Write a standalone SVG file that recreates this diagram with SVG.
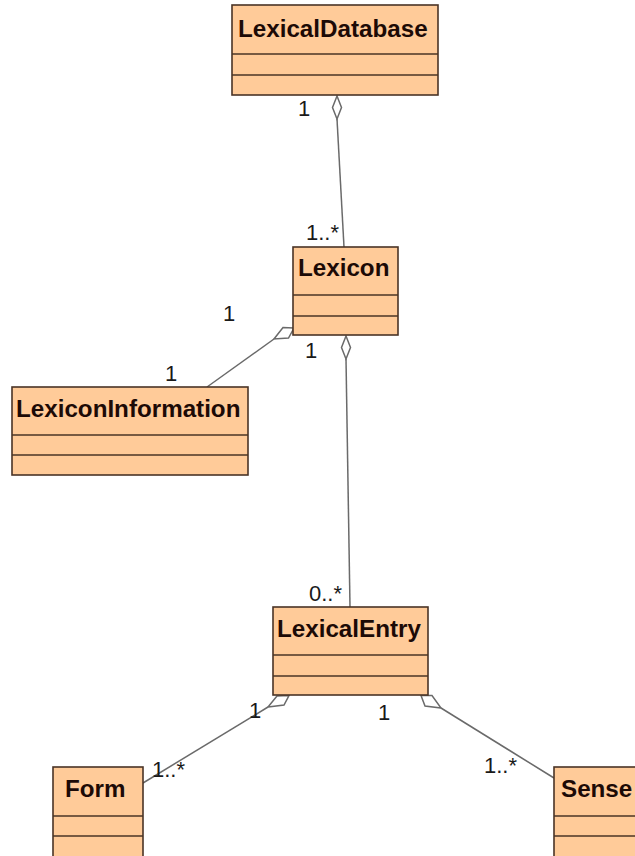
<svg xmlns="http://www.w3.org/2000/svg" width="635" height="856" viewBox="0 0 635 856">
  <style>
    .box { fill: #ffcb99; stroke: #4a3426; stroke-width: 1.6; }
    .sep { stroke: #4a3426; stroke-width: 1.6; }
    .name { font-family: "Liberation Sans", Arial, sans-serif; font-weight: bold; font-size: 24.2px; fill: #1c0a06; }
    .mult { font-family: "Liberation Sans", Arial, sans-serif; font-size: 22px; fill: #1a1a1a; }
    .edge { stroke: #6a6a6a; stroke-width: 1.5; fill: none; }
    .agg { stroke: #6a6a6a; stroke-width: 1.5; fill: #ffffff; stroke-linejoin: miter; }
  </style>
  <rect width="635" height="856" fill="#ffffff"/>

  <!-- connectors: plain lines ending in hollow aggregation diamonds -->
  <g id="connectors">
    <line class="edge" x1="337" y1="119" x2="344" y2="247"/>
    <polygon class="agg" points="337,96 341.5,107.5 337,119 332.5,107.5"/>

    <line class="edge" x1="346" y1="359" x2="350" y2="607"/>
    <polygon class="agg" points="346,336 350.5,347.5 346,359 341.5,347.5"/>

    <line class="edge" x1="274" y1="339" x2="207" y2="387"/>
    <polygon class="agg" points="294,328 283,327.5 274,339 288.5,338"/>

    <line class="edge" x1="268" y1="707" x2="143" y2="783"/>
    <polygon class="agg" points="289,695.5 277,696 268,707 284,705"/>

    <line class="edge" x1="441" y1="708" x2="554" y2="778"/>
    <polygon class="agg" points="421,695.5 432,695.5 441,708 425,706"/>

    <text class="mult" x="298" y="116">1</text>
    <text class="mult" x="306" y="240">1..*</text>
    <text class="mult" x="223" y="321">1</text>
    <text class="mult" x="165" y="381">1</text>
    <text class="mult" x="305" y="358">1</text>
    <text class="mult" x="309" y="601">0..*</text>
    <text class="mult" x="249" y="718">1</text>
    <text class="mult" x="378" y="720">1</text>
    <text class="mult" x="152" y="777">1..*</text>
    <text class="mult" x="484" y="773">1..*</text>
  </g>

  <g id="LexicalDatabase">
    <rect class="box" x="232" y="5" width="206" height="90"/>
    <line class="sep" x1="232" y1="54" x2="438" y2="54"/>
    <line class="sep" x1="232" y1="75" x2="438" y2="75"/>
    <text class="name" x="238" y="37">LexicalDatabase</text>
  </g>

  <g id="Lexicon">
    <rect class="box" x="293" y="247" width="105" height="88"/>
    <line class="sep" x1="293" y1="295" x2="398" y2="295"/>
    <line class="sep" x1="293" y1="316" x2="398" y2="316"/>
    <text class="name" x="298" y="276">Lexicon</text>
  </g>

  <g id="LexiconInformation">
    <rect class="box" x="12" y="387" width="236" height="88"/>
    <line class="sep" x1="12" y1="435" x2="248" y2="435"/>
    <line class="sep" x1="12" y1="455" x2="248" y2="455"/>
    <text class="name" x="16" y="417">LexiconInformation</text>
  </g>

  <g id="LexicalEntry">
    <rect class="box" x="273" y="607" width="155" height="88"/>
    <line class="sep" x1="273" y1="655" x2="428" y2="655"/>
    <line class="sep" x1="273" y1="676" x2="428" y2="676"/>
    <text class="name" x="277" y="637">LexicalEntry</text>
  </g>

  <g id="Form">
    <rect class="box" x="53" y="767" width="90" height="100"/>
    <line class="sep" x1="53" y1="816" x2="143" y2="816"/>
    <line class="sep" x1="53" y1="836" x2="143" y2="836"/>
    <text class="name" x="65" y="797">Form</text>
  </g>

  <g id="Sense">
    <rect class="box" x="554" y="767" width="100" height="100"/>
    <line class="sep" x1="554" y1="816" x2="654" y2="816"/>
    <line class="sep" x1="554" y1="836" x2="654" y2="836"/>
    <text class="name" x="561" y="797">Sense</text>
  </g>
</svg>
